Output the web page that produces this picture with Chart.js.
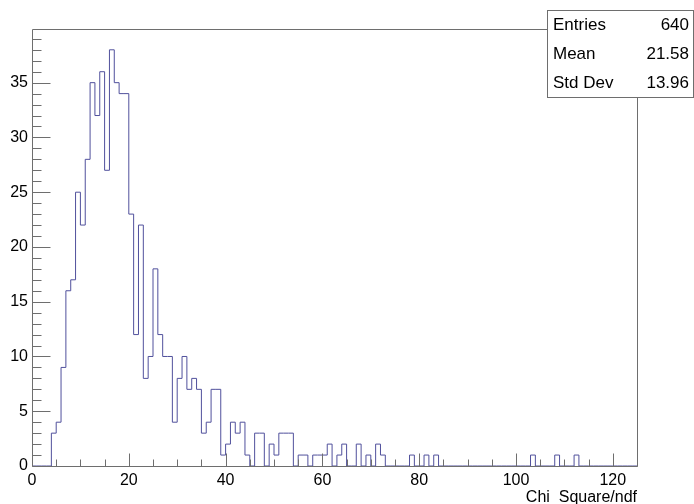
<!DOCTYPE html>
<html>
<head>
<meta charset="utf-8">
<script src="https://cdn.jsdelivr.net/npm/chart.js@4.4.1/dist/chart.umd.min.js"></script>
<style>
  html, body { margin: 0; padding: 0; background: #ffffff; }
  canvas { display: block; }
</style>
</head>
<body>
<canvas id="c" width="694" height="504"></canvas>
<script>
// Histogram binning: 125 bins of width 1 starting at 0
const binLow = 0;
const binWidth = 1;
const xRange = [0, 125];
const yRange = [0, 39.9];

// Bin contents, bin 0 .. bin 124
const counts = [
  0, 0, 0, 0, 3, 4, 9, 16, 17, 25,
  22, 28, 35, 32, 36, 27, 38, 35, 34, 34,
  23, 12, 22, 8, 10, 18, 12, 10, 10, 4,
  8, 10, 7, 8, 7, 3, 4, 7, 7, 1,
  2, 4, 3, 4, 1, 0, 3, 3, 0, 2,
  1, 3, 3, 3, 0, 1, 1, 0, 1, 1,
  1, 2, 0, 1, 2, 0, 0, 2, 0, 1,
  0, 2, 1, 0, 0, 0, 0, 0, 1, 0,
  0, 1, 0, 1, 0, 0, 0, 0, 0, 0,
  0, 0, 0, 0, 0, 0, 0, 0, 0, 0,
  0, 0, 0, 1, 0, 0, 0, 0, 1, 0,
  0, 0, 1, 0, 0, 0, 0, 0, 0, 0,
  0, 0, 0, 0, 0
];

// Axis tick values
const xMajorTicks = [0, 20, 40, 60, 80, 100, 120];
const xMinorStep = 5;
const yMajorTicks = [0, 5, 10, 15, 20, 25, 30, 35];
const yMinorStep = 1;

const xTitle = 'Chi  Square/ndf';

// Statistics box
const statNames = ['Entries', 'Mean', 'Std Dev'];
const statValues = [String(counts.reduce((s, c) => s + c, 0)), '21.58', '13.96'];

const lineColor = '#50509c';
const axisColor = '#6e6e6e';
const fontFamily = '"Liberation Sans", Arial, Helvetica, sans-serif';

// Step outline: each point starts a bin, the closing point ends the last bin
const points = counts.map((c, i) => ({ x: binLow + i * binWidth, y: c }));
points.push({ x: binLow + counts.length * binWidth, y: 0 });

// ROOT-style frame with ticks pointing into the plot, plus the stats box
const rootFrame = {
  id: 'rootFrame',
  afterDatasetsDraw(chart) {
    const { ctx, chartArea: a, scales: { x, y } } = chart;
    const px = v => Math.round(x.getPixelForValue(v)) + 0.5;
    const py = v => Math.round(y.getPixelForValue(v)) + 0.5;
    const L = Math.round(a.left) + 0.5, R = Math.round(a.right) + 0.5;
    const T = Math.round(a.top) + 0.5, B = Math.round(a.bottom) + 0.5;
    ctx.save();
    ctx.strokeStyle = axisColor;
    ctx.lineWidth = 1;
    ctx.beginPath();
    ctx.rect(L, T, R - L, B - T);
    // y axis ticks
    for (let v = yRange[0]; v <= yRange[1]; v += yMinorStep) {
      const len = yMajorTicks.includes(v) ? 18 : 9;
      ctx.moveTo(L, py(v));
      ctx.lineTo(L + len, py(v));
    }
    // x axis ticks
    for (let v = xRange[0]; v <= xRange[1]; v += xMinorStep) {
      const len = xMajorTicks.includes(v) ? 13 : 7;
      ctx.moveTo(px(v), B);
      ctx.lineTo(px(v), B - len);
    }
    ctx.stroke();
    ctx.restore();
  },
  afterDraw(chart) {
    const { ctx } = chart;
    const bx = 547, by = 10, bw = 146, bh = 87;
    ctx.save();
    ctx.fillStyle = '#ffffff';
    ctx.fillRect(bx, by, bw, bh);
    ctx.strokeStyle = axisColor;
    ctx.lineWidth = 1;
    ctx.strokeRect(bx + 0.5, by + 0.5, bw, bh);
    ctx.fillStyle = '#000000';
    ctx.font = '17px ' + fontFamily;
    ctx.textBaseline = 'middle';
    const rowH = bh / statNames.length;
    statNames.forEach((name, i) => {
      const cy = by + rowH * (i + 0.5) + 1;
      ctx.textAlign = 'left';
      ctx.fillText(name, bx + 6, cy);
      ctx.textAlign = 'right';
      ctx.fillText(statValues[i], bx + bw - 4, cy);
    });
    ctx.restore();
  }
};

new Chart(document.getElementById('c'), {
  type: 'line',
  data: {
    datasets: [{
      data: points,
      stepped: 'before',
      borderColor: lineColor,
      borderWidth: 1,
      pointRadius: 0,
      fill: false,
      tension: 0
    }]
  },
  options: {
    responsive: false,
    animation: false,
    devicePixelRatio: 1,
    layout: { padding: { top: 29, right: 57, left: 0, bottom: 0 } },
    plugins: {
      legend: { display: false },
      tooltip: { enabled: false }
    },
    scales: {
      x: {
        type: 'linear',
        min: xRange[0],
        max: xRange[1],
        afterBuildTicks: s => { s.ticks = xMajorTicks.map(v => ({ value: v })); },
        afterFit: s => { s.height = 38; },
        grid: { display: false, drawTicks: false },
        border: { display: false },
        ticks: {
          color: '#000000',
          font: { family: fontFamily, size: 16 },
          padding: 5,
          maxRotation: 0,
          autoSkip: false
        },
        title: {
          display: true,
          text: xTitle,
          align: 'end',
          color: '#000000',
          font: { family: fontFamily, size: 16 },
          padding: { top: -3, bottom: -3 }
        }
      },
      y: {
        type: 'linear',
        min: yRange[0],
        max: yRange[1],
        afterBuildTicks: s => { s.ticks = yMajorTicks.map(v => ({ value: v })); },
        afterFit: s => { s.width = 32; },
        grid: { display: false, drawTicks: false },
        border: { display: false },
        ticks: {
          color: '#000000',
          font: { family: fontFamily, size: 16 },
          padding: 4,
          autoSkip: false
        }
      }
    }
  },
  plugins: [rootFrame]
});
</script>
</body>
</html>
